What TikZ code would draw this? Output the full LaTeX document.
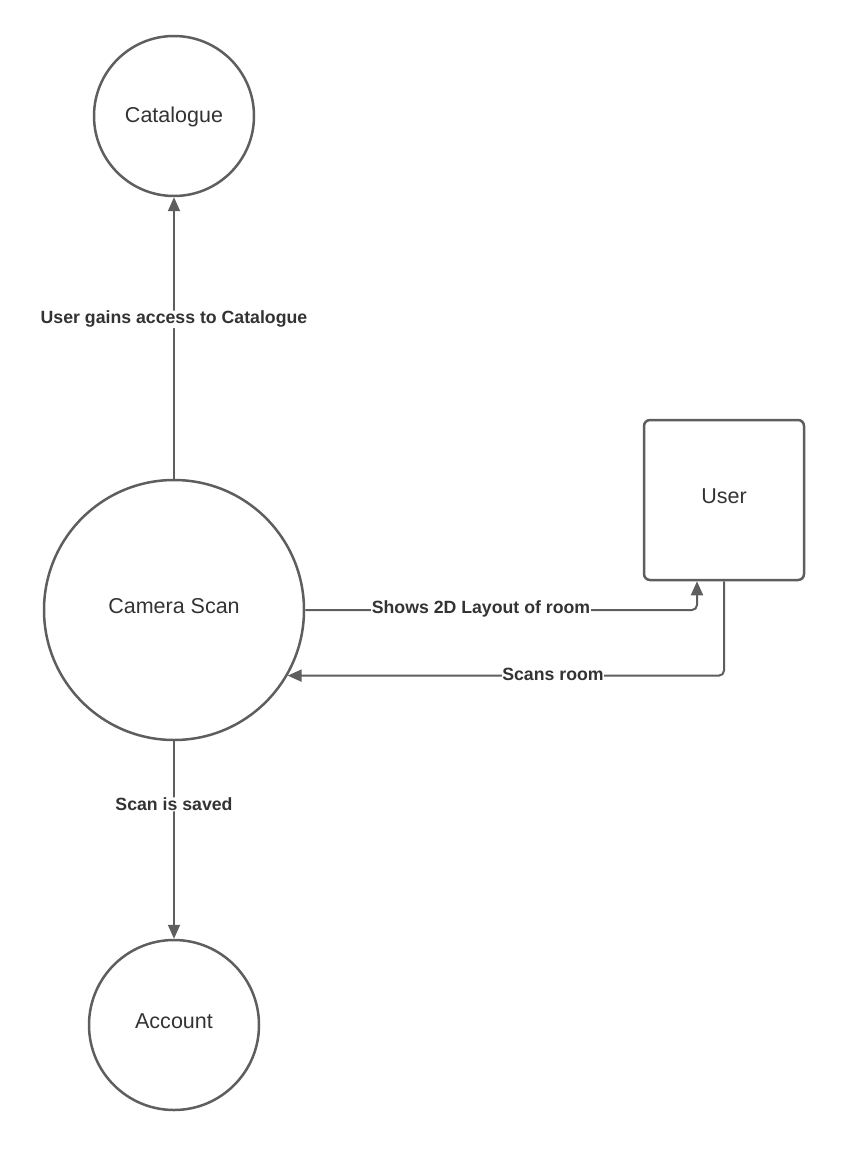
\documentclass[tikz,border=0pt]{standalone}
\usepackage{fontspec}
\setmainfont{Liberation Sans}
\usetikzlibrary{arrows.meta}
\definecolor{ln}{HTML}{5E5E5E}
\definecolor{tx}{HTML}{333333}
\tikzset{
  circ/.style={circle, draw=ln, line width=2.5pt, text=tx, font=\fontsize{21.5}{24}\selectfont, inner sep=0pt, text height=15.5pt, text depth=8.5pt},
  ubox/.style={rectangle, rounded corners=6pt, draw=ln, line width=2.5pt, text=tx, font=\fontsize{21.5}{24}\selectfont, minimum size=160pt, text height=15.5pt, text depth=8pt},
  flow/.style={draw=ln, line width=2pt, -{Triangle[length=14pt,width=12pt]}, rounded corners=5pt},
  lbl/.style={fill=white, text=tx, font=\fontsize{17.7}{20}\selectfont\bfseries, inner sep=0.5pt}
}
\begin{document}
\begin{tikzpicture}[x=1pt,y=-1pt]
\useasboundingbox (0,0) rectangle (844,1150);
\node[circ, minimum size=160pt, text depth=1.5pt] (cat) at (174,116) {Catalogue};
\node[circ, minimum size=260pt] (cam) at (174,610) {Camera Scan};
\node[circ, minimum size=170pt] (acc) at (174,1025) {Account};
\node[ubox] (user) at (724,500) {User};
\coordinate (uin) at ([xshift=-27pt]user.south);
\coordinate (uout) at (user.south);
\draw[flow] (cam.north) -- node[lbl, pos=0.566] (l1) {User gains access to Catalogue} (cat.south);
\draw[flow] (cam.east) -| (uin);
\node[lbl] (l2) at (481,609) {Shows 2D Layout of room};
\draw[flow] (uout) |- (cam.-30);
\node[lbl] (l3) at (553,674) {Scans room};
\draw[flow] (cam.south) -- node[lbl, pos=0.32] (l4) {Scan is saved} (acc.north);
\end{tikzpicture}
\end{document}
